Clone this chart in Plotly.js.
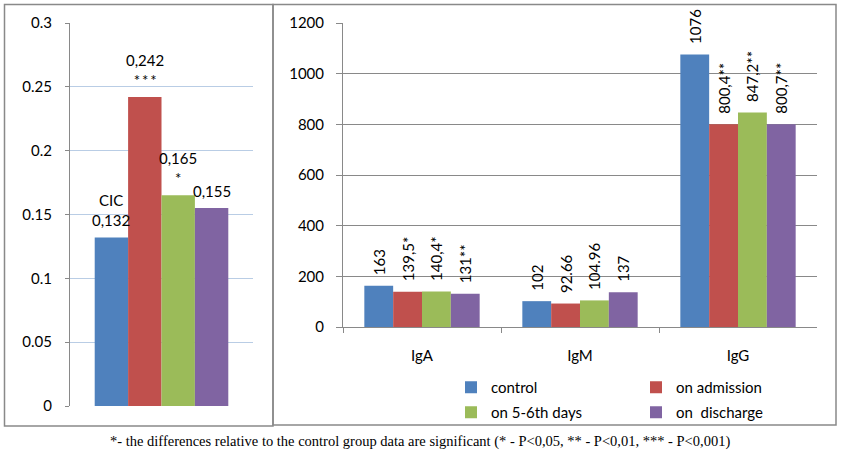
<!DOCTYPE html>
<html>
<head>
<meta charset="utf-8">
<script src="https://cdn.plot.ly/plotly-3.0.1.min.js"></script>
<style>
html,body{margin:0;padding:0;background:#fff;}
#chart{width:841px;height:454px;}
</style>
</head>
<body>
<div id="chart"></div>
<script>
// ---- data ----
var seriesNames = ["control", "on admission", "on 5-6th days", "on  discharge"];
var seriesColors = ["#4F81BD", "#C0504D", "#9BBB59", "#8064A2"];

// left panel: CIC
var cicCategory = ["CIC"];
var cicValues = [0.132, 0.242, 0.165, 0.155];
var cicLabels = ["CIC<br>0,132", "0,242<br>*\u2009*\u2009*", "0,165<br>*", "0,155"];

// right panel: immunoglobulins
var igCategories = ["IgA", "IgM", "IgG"];
var igControl   = [163, 102, 1076];
var igAdmission = [139.5, 92.66, 800.4];
var igDays56    = [140.4, 104.96, 847.2];
var igDischarge = [131, 137, 800.7];
var igLabelsControl   = ["163", "102", "1076"];
var igLabelsAdmission = ["139,5*", "92.66", "800,4**"];
var igLabelsDays56    = ["140,4*", "104.96", "847,2**"];
var igLabelsDischarge = ["131**", "137", "800,7**"];

var footnote = "*- the differences relative to the control group data are significant (* - P<0,05, ** - P<0,01, *** - P<0,001)";

// ---- build ----
var W = 841, H = 454;
var FONT = "Lato, 'Open Sans', sans-serif";
var GRAY = "#898989";
var sp = "\u2002";
var BARGAP = 0.27;

function px(x){return x / W;}
function py(y){return (H - y) / H;}

var traces = [];
var annotations = [];
var barW = (1 - BARGAP) / 4;
for (var i = 0; i < 4; i++) {
  traces.push({
    type: "bar", x: cicCategory, y: [cicValues[i]], name: seriesNames[i],
    marker: {color: seriesColors[i]}, showlegend: false,
    xaxis: "x", yaxis: "y", hoverinfo: "none"
  });
  annotations.push({
    xref: "x", yref: "y", x: (i - 1.5) * barW, y: cicValues[i],
    xanchor: "center", yanchor: "bottom", yshift: 6, showarrow: false,
    text: cicLabels[i], font: {family: FONT, size: 15, color: "#000"}
  });
}
var igSeries = [igControl, igAdmission, igDays56, igDischarge];
var igLabels = [igLabelsControl, igLabelsAdmission, igLabelsDays56, igLabelsDischarge];
var legendOf = ["legend", "legend2", "legend3", "legend4"];
for (var j = 0; j < 4; j++) {
  traces.push({
    type: "bar", x: igCategories, y: igSeries[j], name: seriesNames[j],
    marker: {color: seriesColors[j]}, legend: legendOf[j],
    text: igLabels[j].map(function(t){return sp + t;}), textposition: "outside", textangle: -90,
    constraintext: "none", cliponaxis: false,
    textfont: {family: FONT, size: 15, color: "#000"},
    xaxis: "x2", yaxis: "y2", hoverinfo: "none"
  });
}

annotations.push({
  xref: "paper", yref: "paper", x: px(420), y: py(441), xanchor: "center", yanchor: "middle",
  text: footnote, showarrow: false,
  font: {family: "'Liberation Serif', 'Times New Roman', serif", size: 14.5, color: "#000"}
});

function legendAt(left, top) {
  return {
    x: px(left), xanchor: "left", y: py(top), yanchor: "top",
    orientation: "v", bgcolor: "rgba(0,0,0,0)",
    font: {family: FONT, size: 15, color: "#000"}
  };
}

var layout = {
  width: W, height: H,
  margin: {l: 0, r: 0, t: 0, b: 0},
  paper_bgcolor: "#fff", plot_bgcolor: "#fff",
  font: {family: FONT, size: 15, color: "#000"},
  barmode: "group", bargap: BARGAP, bargroupgap: 0,
  xaxis: {
    domain: [px(70), px(253)], anchor: "y", showticklabels: false,
    showline: false, showgrid: false, ticks: "", fixedrange: true
  },
  yaxis: {
    domain: [py(406), py(23)], anchor: "x", range: [0, 0.3], dtick: 0.05,
    showgrid: true, gridcolor: "#B9CDE5", gridwidth: 1, zeroline: false,
    showline: true, linecolor: GRAY, linewidth: 1,
    ticks: "outside", ticklen: 4, tickcolor: GRAY, ticklabelstandoff: 10,
    tickfont: {family: FONT, size: 15, color: "#000"}
  },
  xaxis2: {
    domain: [px(343), px(817)], anchor: "y2",
    showline: true, linecolor: GRAY, linewidth: 1, showgrid: false,
    ticks: "outside", tickson: "boundaries", ticklen: 5, tickcolor: GRAY,
    ticklabelstandoff: 15,
    tickfont: {family: FONT, size: 15, color: "#000"}
  },
  yaxis2: {
    domain: [py(327), py(23)], anchor: "x2", range: [0, 1200], dtick: 200,
    showgrid: true, gridcolor: GRAY, gridwidth: 1, zeroline: false,
    showline: true, linecolor: GRAY, linewidth: 1,
    ticks: "outside", ticklen: 6, tickcolor: GRAY, ticklabelstandoff: 9,
    tickfont: {family: FONT, size: 15, color: "#000"}
  },
  legend: legendAt(451, 371),
  legend2: legendAt(636, 371),
  legend3: legendAt(451, 396),
  legend4: legendAt(636, 396),
  shapes: [
    {type: "rect", xref: "paper", yref: "paper", x0: px(4.5), x1: px(273), y0: py(426), y1: py(4.5),
     line: {color: GRAY, width: 1.5}},
    {type: "rect", xref: "paper", yref: "paper", x0: px(273), x1: px(836), y0: py(425), y1: py(4.5),
     line: {color: GRAY, width: 1.5}}
  ],
  annotations: annotations
};

Plotly.newPlot("chart", traces, layout, {staticPlot: true, displayModeBar: false});
</script>
</body>
</html>
